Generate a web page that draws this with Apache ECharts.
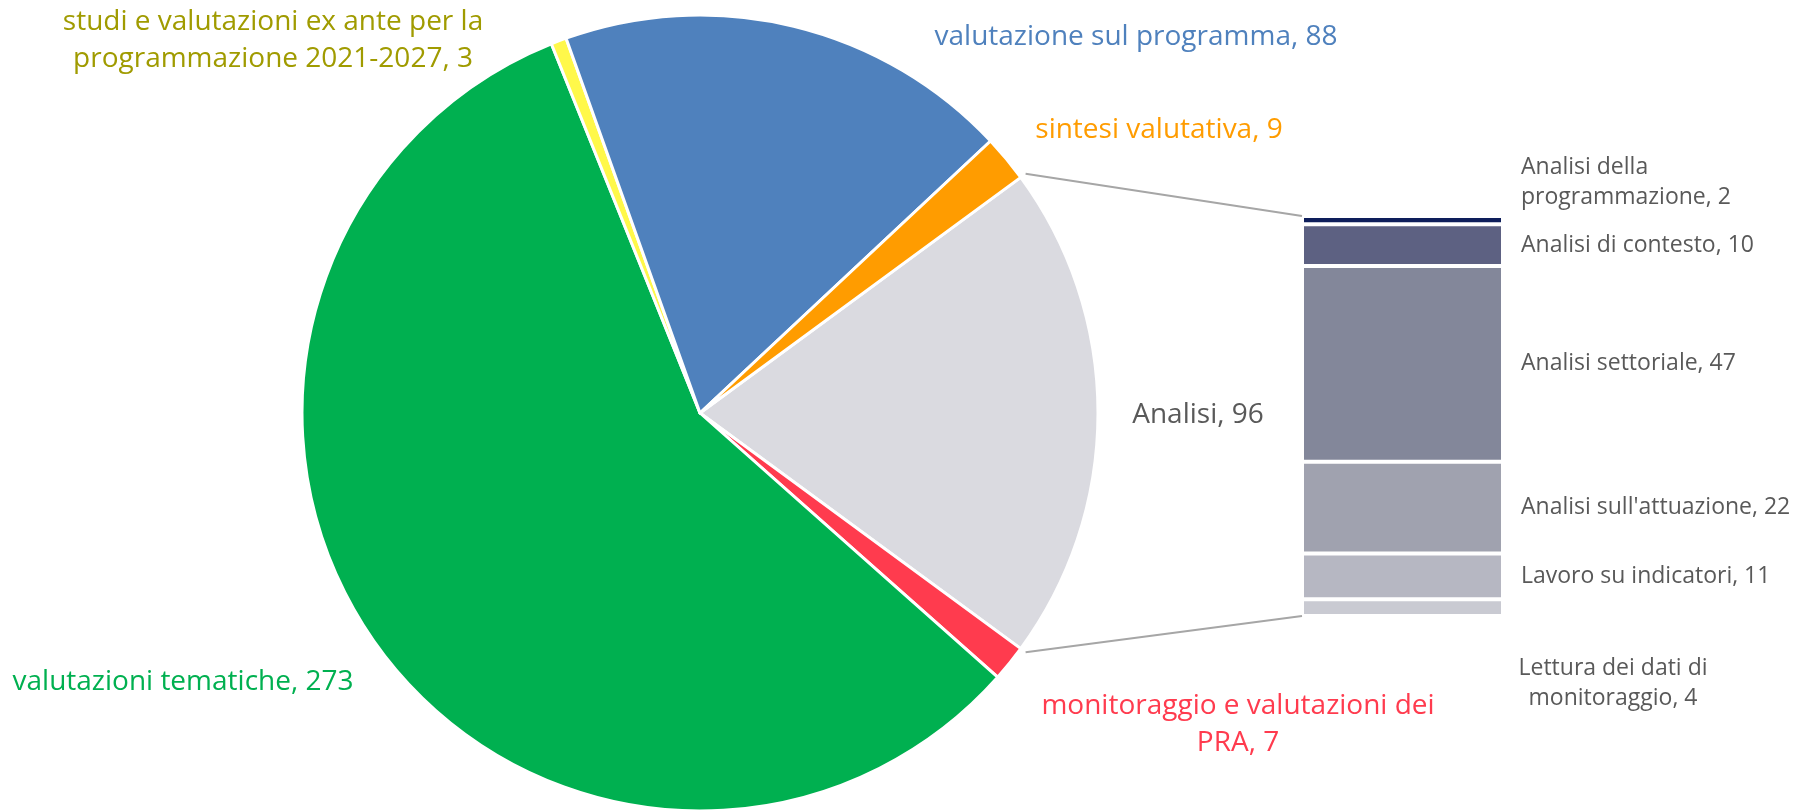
<!DOCTYPE html>
<html>
<head>
<meta charset="utf-8">
<script src="https://cdn.jsdelivr.net/npm/echarts@6/dist/echarts.min.js"></script>
<style>
html,body{margin:0;padding:0;background:#fff}
#chart{width:1797px;height:812px}
</style>
</head>
<body>
<div id="chart"></div>
<script>
// 主饼图数据
var pieNames = ['Analisi', 'monitoraggio e valutazioni dei PRA', 'valutazioni tematiche',
	'studi e valutazioni ex ante per la programmazione 2021-2027', 'valutazione sul programma', 'sintesi valutativa'];
var pieValues = [96, 7, 273, 3, 88, 9];

// 右侧堆叠柱 - Analisi 明细
var barNames = ['Analisi della programmazione', 'Analisi di contesto', 'Analisi settoriale',
	"Analisi sull'attuazione", 'Lavoro su indicatori', 'Lettura dei dati di monitoraggio'];
var barValues = [2, 10, 47, 22, 11, 4];

// 样式
var FONT = 'Open Sans';
var pieColors = ['#DADAE0', '#FF3B4E', '#00B050', '#FFF84A', '#4F81BD', '#FF9C00'];
var pieTextColors = ['#595959', '#FF3B4E', '#00B050', '#A09B00', '#4F81BD', '#FF9C00'];
var pieLabelAt = [[1198, 415], [1238, 725], [183, 682], [273, 41], [1136, 37], [1159, 130]];
var pieWrap = [0, 30, 0, 34, 0, 0];   // 每行最多字符数，0 = 不换行
var barWrap = [17, 0, 0, 0, 0, 20];
var barColors = ['#0E1E5B', '#5D6182', '#83879A', '#A0A2AF', '#B6B7C2', '#C9CAD2'];

var cx = 700, cy = 413, r = 398;
var barLeft = 1302, barTop = 216, barW = 201, barH = 400;

var pieTotal = pieValues.reduce(function(a, b) { return a + b; }, 0);
var barTotal = barValues.reduce(function(a, b) { return a + b; }, 0);
var half = pieValues[0] / pieTotal * 180; // Analisi 扇区半角

// 按字符数换行
function wrap(text, max) {
	if (!max) return text;
	var words = text.split(' '), lines = [], cur = '';
	for (var i = 0; i < words.length; i++) {
		var t = cur ? cur + ' ' + words[i] : words[i];
		if (t.length > max && cur) {
			lines.push(cur);
			cur = words[i];
		} else {
			cur = t;
		}
	}
	lines.push(cur);
	return lines.join('\n');
}

var chart = echarts.init(document.getElementById('chart'));

var pieData = pieNames.map(function(n, i) {
	return {
		name: n,
		value: pieValues[i],
		itemStyle: { color: pieColors[i] },
		label: { color: pieTextColors[i] }
	};
});

var series = [{
	type: 'pie',
	center: [cx, cy],
	radius: [0, r],
	startAngle: half,
	clockwise: true,
	silent: true,
	data: pieData,
	itemStyle: { borderColor: '#fff', borderWidth: 3 },
	label: {
		show: true,
		position: 'outside',
		formatter: function(p) {
			return wrap(p.name + ', ' + p.value, pieWrap[p.dataIndex]);
		},
		fontFamily: FONT,
		fontSize: 28,
		lineHeight: 37,
		width: 520,
		overflow: 'none',
		align: 'center'
	},
	labelLine: { show: false },
	labelLayout: function(p) {
		var pos = pieLabelAt[p.dataIndex];
		return { x: pos[0], y: pos[1], align: 'center', verticalAlign: 'middle' };
	}
}];

barNames.forEach(function(n, i) {
	var lab = {
		show: true,
		position: 'right',
		distance: 18,
		formatter: function(p) {
			return wrap(p.seriesName + ', ' + p.value, barWrap[i]);
		},
		color: '#595959',
		fontFamily: FONT,
		fontSize: 23,
		lineHeight: 30
	};
	if (i == 0) {
		lab.offset = [0, -38];
	}
	if (i == barNames.length - 1) {
		lab.align = 'center';
		lab.offset = [92, 76];
	}
	series.push({
		name: n,
		type: 'bar',
		stack: 'analisi',
		barWidth: '100%',
		silent: true,
		data: [barValues[i]],
		itemStyle: { color: barColors[i], borderColor: '#fff', borderWidth: 2 },
		label: lab
	});
});

// 连接线
var a = half * Math.PI / 180;
var rr = r + 6;
var lineStyle = { stroke: '#A6A6A6', lineWidth: 2 };

var option = {
	animation: false,
	grid: { left: barLeft, top: barTop, width: barW, height: barH },
	xAxis: { type: 'category', data: ['Analisi'], show: false },
	yAxis: { type: 'value', inverse: true, min: 0, max: barTotal, show: false },
	graphic: [{
		type: 'line',
		shape: { x1: cx + rr * Math.cos(a), y1: cy - rr * Math.sin(a), x2: barLeft, y2: barTop },
		style: lineStyle
	}, {
		type: 'line',
		shape: { x1: cx + rr * Math.cos(a), y1: cy + rr * Math.sin(a), x2: barLeft, y2: barTop + barH },
		style: lineStyle
	}],
	series: series
};
chart.setOption(option);
</script>
</body>
</html>
